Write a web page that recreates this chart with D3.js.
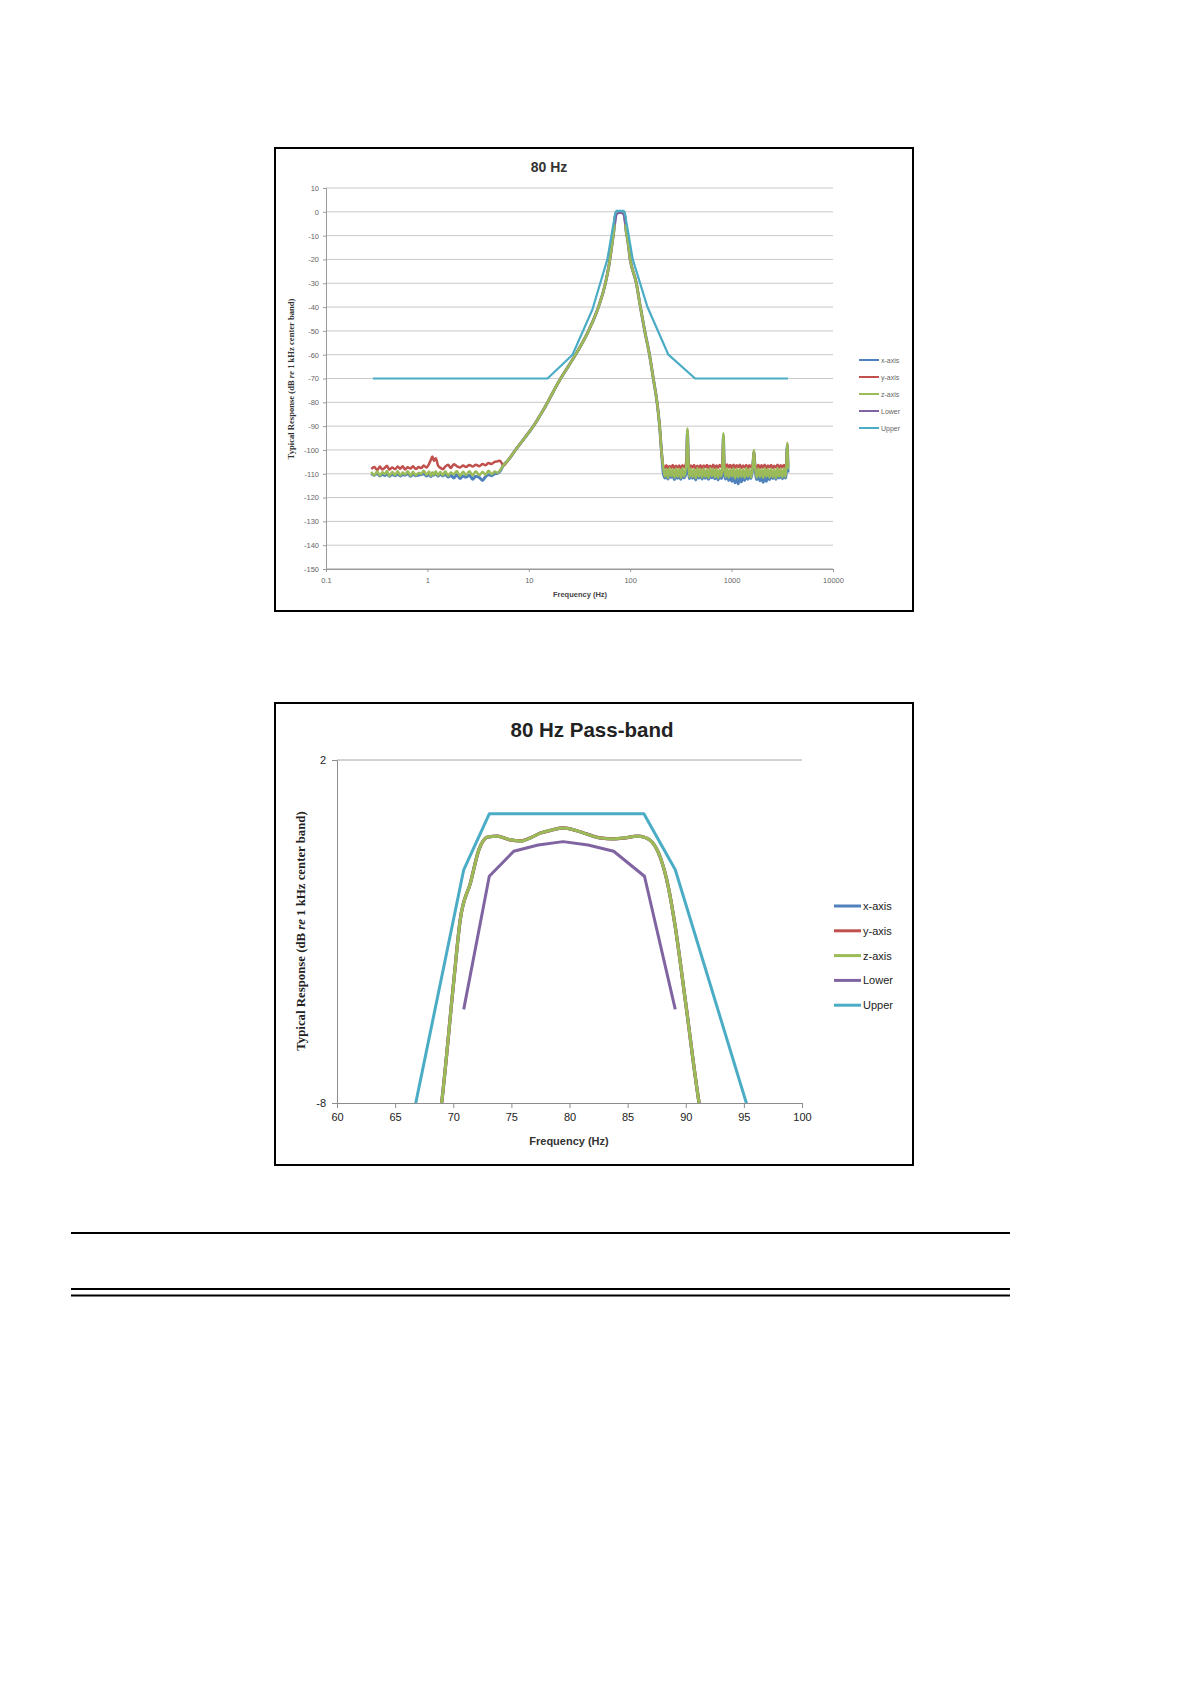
<!DOCTYPE html>
<html>
<head>
<meta charset="utf-8">
<script src="https://cdn.jsdelivr.net/npm/d3@7"></script>
<style>
  body { margin: 0; background: #fff; }
  svg { display: block; }
</style>
</head>
<body>
<script>
// ---- data ----
var seriesNames = ["x-axis", "y-axis", "z-axis", "Lower", "Upper"];
var seriesColors = ["#4f81bd", "#c0504d", "#9bbb59", "#8064a2", "#4bacc6"];

// low frequency noise floor
var lowFreq = [0.28,0.30,0.32,0.34,0.36,0.38,0.40,0.42,0.45,0.48,
  0.51,0.54,0.57,0.60,0.64,0.68,0.72,0.77,0.82,0.87,
  0.92,0.98,1.04,1.08,1.12,1.16,1.21,1.27,1.34,1.42,
  1.5,1.6,1.7,1.82,1.95,2.1,2.25,2.4,2.6,2.8,
  3.0,3.25,3.5,3.75,4.0,4.3,4.6,4.9,5.2];
var lowX = [-110.0,-110.6,-109.8,-110.9,-110.2,-110.7,-109.9,-111.0,-110.3,-110.8,
  -110.1,-110.9,-110.4,-110.6,-109.9,-111.1,-110.2,-110.8,-110.5,-110.3,
  -110.0,-110.9,-110.2,-111.2,-110.4,-110.6,-109.9,-111.0,-110.3,-110.9,
  -110.2,-111.4,-110.6,-111.8,-110.4,-112.0,-110.9,-111.5,-110.6,-112.3,
  -111.0,-111.6,-112.8,-111.2,-110.4,-110.8,-110.0,-109.8,-109.0];
var lowY = [-108.0,-107.2,-108.5,-107.0,-108.2,-107.5,-106.6,-108.3,-107.4,-108.1,
  -107.0,-107.9,-106.8,-108.2,-107.3,-107.8,-106.9,-108.0,-107.2,-107.6,
  -106.5,-107.4,-105.8,-104.2,-102.8,-104.6,-103.5,-106.4,-107.5,-108.1,
  -107.0,-106.2,-107.6,-106.0,-106.8,-107.4,-106.5,-107.2,-106.3,-107.0,
  -106.2,-106.8,-105.9,-106.4,-105.5,-105.9,-105.0,-104.8,-104.5];
var lowZ = [-109.2,-110.6,-109.0,-110.8,-109.4,-110.2,-108.8,-110.9,-109.3,-110.5,
  -109.0,-110.7,-109.5,-110.3,-108.9,-110.8,-109.2,-110.6,-109.6,-110.1,
  -108.7,-110.5,-109.1,-110.9,-109.4,-110.4,-108.9,-110.7,-109.3,-110.6,
  -109.0,-110.8,-109.5,-110.2,-108.8,-110.9,-109.2,-110.5,-109.0,-110.7,
  -108.9,-110.6,-109.3,-110.4,-108.7,-110.2,-109.1,-109.6,-108.6];

// filter skirts and pass-band (same for the three axes)
var skirtFreq = [5.6,6.2,7.4,8.9,11.1,14.0,20.6,24.6,28.9,38.8,48.6,57.0,62.0,65.5,67.5,69.0,70.0,70.6,71.5,72.2,
  73.0,73.8,74.8,75.8,76.7,77.5,78.5,79.5,80.5,81.5,82.6,83.8,84.8,85.8,86.5,87.1,87.8,88.5,89.1,90.0,
  91.15,93.8,100,115,126,139,155,169,184,195,203];
var skirtDb = [-106.5,-104.5,-100,-95.5,-90,-83,-70,-64.8,-60,-50,-40,-30,-22,-15,-11,-8,-4.6,-2.66,-1.56,-0.62,
  -0.24,-0.22,-0.32,-0.36,-0.26,-0.13,-0.04,0.02,-0.05,-0.16,-0.27,-0.30,-0.27,-0.22,-0.26,-0.39,-0.83,-1.7,-2.87,-5.1,
  -8,-11,-20,-30,-40,-50,-60,-70,-80,-90,-100];

// high frequency noise floor with spikes
var highFreq = [212,220,228,236,245,254,263,273,283,293,
  304,315,327,339,352,360,367,374,383,397,
  412,427,443,459,476,494,512,531,551,571,
  592,614,637,660,685,710,736,763,792,815,
  830,845,870,902,935,970,1006,1043,1082,1122,
  1163,1206,1251,1297,1345,1395,1447,1500,1555,1620,
  1660,1700,1770,1835,1903,1973,2046,2122,2200,2282,
  2366,2454,2545,2639,2736,2838,2943,3052,3165,3282,
  3400,3480,3540,3600];
var highX = [-109.6,-111.8,-110.0,-112.2,-109.8,-111.6,-110.2,-112.4,-109.9,-111.9,
  -110.1,-112.3,-109.8,-111.7,-110.4,-105,-92,-105,-112.0,-110.0,
  -111.9,-110.2,-112.6,-109.8,-111.8,-110.1,-112.2,-109.9,-111.9,-110.3,
  -112.3,-109.8,-111.7,-110.1,-112.1,-110.0,-112.6,-110.4,-112.0,-107,
  -94,-107,-112.2,-110.0,-112.8,-110.6,-113.2,-110.8,-113.8,-111.2,
  -114.2,-110.9,-113.4,-110.6,-112.8,-110.0,-112.3,-110.1,-112.0,-107,
  -101,-107,-112.4,-110.0,-112.9,-110.8,-113.6,-111.0,-113.2,-110.6,
  -112.5,-110.1,-112.0,-109.9,-112.3,-110.0,-111.8,-110.2,-112.1,-109.9,
  -111.8,-107,-98,-109.5];
var highY = [-106.6,-107.6,-106.4,-107.8,-106.7,-107.5,-106.3,-107.7,-106.6,-107.4,
  -106.5,-107.8,-106.4,-107.3,-106.2,-104,-92,-104,-107.6,-106.5,
  -107.4,-106.3,-107.7,-106.6,-107.5,-106.4,-107.8,-106.5,-107.3,-106.3,
  -107.6,-106.6,-107.4,-106.2,-107.7,-106.5,-107.5,-106.3,-107.2,-105.5,
  -94,-105.5,-107.5,-106.1,-107.4,-106.3,-107.6,-106.2,-107.5,-106.4,
  -107.3,-106.2,-107.6,-106.5,-107.4,-106.3,-107.7,-106.4,-107.2,-105.8,
  -100.5,-105.8,-107.5,-106.3,-107.6,-106.4,-107.4,-106.2,-107.7,-106.5,
  -107.3,-106.3,-107.6,-106.6,-107.4,-106.2,-107.5,-106.4,-107.3,-106.3,
  -107.4,-105.5,-97.5,-107.0];
var highZ = [-107.5,-111.2,-108.0,-111.8,-107.6,-111.0,-108.2,-111.6,-107.8,-111.3,
  -108.0,-111.7,-107.7,-111.2,-108.5,-104,-91,-104,-111.5,-107.9,
  -111.4,-108.1,-111.8,-107.6,-111.2,-108.0,-111.6,-107.8,-111.3,-108.2,
  -111.7,-107.6,-111.1,-108.0,-111.5,-107.9,-111.8,-108.3,-111.2,-106,
  -93,-106,-111.4,-107.8,-111.6,-108.1,-111.2,-107.7,-111.9,-108.0,
  -111.5,-107.9,-111.3,-108.2,-111.7,-107.6,-111.2,-108.0,-111.5,-106.5,
  -100,-106.5,-111.6,-107.8,-111.3,-108.1,-111.7,-107.7,-111.2,-108.0,
  -111.6,-107.9,-111.4,-108.2,-111.8,-107.6,-111.2,-108.0,-111.5,-107.8,
  -111.3,-106,-97,-108];

// tolerance limits
var lowerFreq = [70.9, 73.1, 75.2, 77.3, 79.45, 81.6, 83.8, 86.45, 89.1];
var lowerDb = [-5.27, -1.39, -0.66, -0.48, -0.38, -0.48, -0.66, -1.39, -5.27];
var upperFreq = [0.29, 15.3, 27, 42.4, 59.5, 70.9, 73.1, 86.4, 89.1, 106, 148, 238, 437, 3600];
var upperDb = [-70, -70, -60, -41, -20, -1.2, 0.43, 0.43, -1.2, -20, -40, -60, -70, -70];

// axis ticks
var ticksY1 = d3.range(-150, 11, 10);
var ticksX1 = [0.1, 1, 10, 100, 1000, 10000];
var ticksY2 = [-8, 2];
var ticksX2 = [60, 65, 70, 75, 80, 85, 90, 95, 100];

// build point lists
function zip(f, v) { return f.map(function(d, i) { return {f: d, v: v[i]}; }); }
var series = [
  zip(lowFreq.concat(skirtFreq, highFreq), lowX.concat(skirtDb, highX)),
  zip(lowFreq.concat(skirtFreq, highFreq), lowY.concat(skirtDb, highY)),
  zip(lowFreq.concat(skirtFreq, highFreq), lowZ.concat(skirtDb, highZ)),
  zip(lowerFreq, lowerDb),
  zip(upperFreq, upperDb)
];

var svg = d3.select("body").append("svg")
  .attr("width", 1190).attr("height", 1684);
svg.append("rect").attr("width", 1190).attr("height", 1684).attr("fill", "#fff");
var defs = svg.append("defs");

// ================= chart 1 : 80 Hz =================
var c1 = svg.append("g");
c1.append("rect").attr("x", 275).attr("y", 148).attr("width", 638).attr("height", 463)
  .attr("fill", "#fff").attr("stroke", "#000").attr("stroke-width", 2);

var x1 = d3.scaleLog().domain([0.1, 10000]).range([326, 833]);
var y1 = d3.scaleLinear().domain([-150, 10]).range([569, 188]);

c1.selectAll("line.grid").data(ticksY1).enter().append("line")
  .attr("class", "grid")
  .attr("x1", x1(0.1)).attr("x2", x1(10000))
  .attr("y1", function(d) { return y1(d); }).attr("y2", function(d) { return y1(d); })
  .attr("stroke", function(d) { return d == -150 ? "#9a9a9a" : "#c8c8c8"; }).attr("stroke-width", 1);

var ax1 = c1.append("g").attr("transform", "translate(" + x1(0.1) + ",0)")
  .call(d3.axisLeft(y1).tickValues(ticksY1).tickSize(3).tickPadding(4).tickFormat(function(d) { return String(d); }));
var bx1 = c1.append("g").attr("transform", "translate(0," + y1(-150) + ")")
  .call(d3.axisBottom(x1).tickValues(ticksX1).tickSize(3).tickPadding(6).tickFormat(function(d) { return String(d); }));
[ax1, bx1].forEach(function(a) {
  a.select(".domain").attr("stroke", "#9a9a9a");
  a.selectAll(".tick line").attr("stroke", "#9a9a9a");
  a.selectAll("text").attr("fill", "#666").attr("font-size", "7.5px").attr("font-family", "Liberation Sans, Arial, sans-serif");
});

defs.append("clipPath").attr("id", "clip1").append("rect")
  .attr("x", 326).attr("y", 180).attr("width", 510).attr("height", 392);

var line1 = d3.line().x(function(d) { return x1(d.f); }).y(function(d) { return y1(d.v); })
  .curve(d3.curveMonotoneX);
var lineStraight1 = d3.line().x(function(d) { return x1(d.f); }).y(function(d) { return y1(d.v); });
var widths1 = [3, 2.5, 2.5, 2, 2.2];
c1.append("g").attr("clip-path", "url(#clip1)")
  .selectAll("path").data(series).enter().append("path")
  .attr("fill", "none")
  .attr("stroke", function(d, i) { return seriesColors[i]; })
  .attr("stroke-width", function(d, i) { return widths1[i]; })
  .attr("stroke-linejoin", "round")
  .attr("d", function(d, i) { return i < 3 ? line1(d) : lineStraight1(d); });

c1.append("text").attr("x", 549).attr("y", 172).attr("text-anchor", "middle")
  .attr("font-family", "Liberation Sans, Arial, sans-serif").attr("font-weight", "bold")
  .attr("font-size", "14px").attr("fill", "#333").text("80 Hz");
c1.append("text").attr("x", 580).attr("y", 597).attr("text-anchor", "middle")
  .attr("font-family", "Liberation Sans, Arial, sans-serif").attr("font-weight", "bold")
  .attr("font-size", "7.5px").attr("fill", "#444").text("Frequency (Hz)");
var yl1 = c1.append("text").attr("transform", "translate(294,379) rotate(-90)").attr("text-anchor", "middle")
  .attr("font-family", "Liberation Serif, serif").attr("font-weight", "bold")
  .attr("font-size", "8.6px").attr("fill", "#333");
yl1.append("tspan").text("Typical Response (dB ");
yl1.append("tspan").attr("font-style", "italic").text("re");
yl1.append("tspan").text(" 1 kHz center band)");

var leg1 = c1.selectAll("g.leg").data(seriesNames).enter().append("g")
  .attr("class", "leg")
  .attr("transform", function(d, i) { return "translate(859," + (360 + i * 17) + ")"; });
leg1.append("line").attr("x1", 0).attr("x2", 20)
  .attr("stroke", function(d, i) { return seriesColors[i]; }).attr("stroke-width", 2);
leg1.append("text").attr("x", 22).attr("y", 2.5).text(function(d) { return d; })
  .attr("font-family", "Liberation Sans, Arial, sans-serif").attr("font-size", "7px").attr("fill", "#666");

// ================= chart 2 : pass-band =================
var c2 = svg.append("g");
c2.append("rect").attr("x", 275).attr("y", 703).attr("width", 638).attr("height", 462)
  .attr("fill", "#fff").attr("stroke", "#000").attr("stroke-width", 2);

var x2 = d3.scaleLinear().domain([60, 100]).range([337, 802]);
var y2 = d3.scaleLinear().domain([-8, 2]).range([1103, 760]);

c2.append("line").attr("x1", x2(60)).attr("x2", x2(100)).attr("y1", y2(2)).attr("y2", y2(2))
  .attr("stroke", "#a6a6a6").attr("stroke-width", 1);

var ax2 = c2.append("g").attr("transform", "translate(" + x2(60) + ",0)")
  .call(d3.axisLeft(y2).tickValues(ticksY2).tickSize(5).tickPadding(6).tickFormat(function(d) { return String(d); }));
var bx2 = c2.append("g").attr("transform", "translate(0," + y2(-8) + ")")
  .call(d3.axisBottom(x2).tickValues(ticksX2).tickSize(5).tickPadding(5).tickFormat(function(d) { return String(d); }));
[ax2, bx2].forEach(function(a) {
  a.select(".domain").attr("stroke", "#8c8c8c");
  a.selectAll(".tick line").attr("stroke", "#8c8c8c");
  a.selectAll("text").attr("fill", "#222").attr("font-size", "11px").attr("font-family", "Liberation Sans, Arial, sans-serif");
});

defs.append("clipPath").attr("id", "clip2").append("rect")
  .attr("x", x2(60)).attr("y", 740).attr("width", x2(100) - x2(60)).attr("height", y2(-8) - 740);

var line2 = d3.line().x(function(d) { return x2(d.f); }).y(function(d) { return y2(d.v); })
  .curve(d3.curveMonotoneX);
var lineStraight2 = d3.line().x(function(d) { return x2(d.f); }).y(function(d) { return y2(d.v); });
var widths2 = [3.3, 3.2, 3.0, 3, 3];
c2.append("g").attr("clip-path", "url(#clip2)")
  .selectAll("path").data(series).enter().append("path")
  .attr("fill", "none")
  .attr("stroke", function(d, i) { return seriesColors[i]; })
  .attr("stroke-width", function(d, i) { return widths2[i]; })
  .attr("stroke-linejoin", "round")
  .attr("d", function(d, i) { return i < 3 ? line2(d) : lineStraight2(d); });

c2.append("text").attr("x", 592).attr("y", 737).attr("text-anchor", "middle")
  .attr("font-family", "Liberation Sans, Arial, sans-serif").attr("font-weight", "bold")
  .attr("font-size", "20.5px").attr("fill", "#222").text("80 Hz Pass-band");
c2.append("text").attr("x", 569).attr("y", 1145).attr("text-anchor", "middle")
  .attr("font-family", "Liberation Sans, Arial, sans-serif").attr("font-weight", "bold")
  .attr("font-size", "11px").attr("fill", "#333").text("Frequency (Hz)");
var yl2 = c2.append("text").attr("transform", "translate(305,931) rotate(-90)").attr("text-anchor", "middle")
  .attr("font-family", "Liberation Serif, serif").attr("font-weight", "bold")
  .attr("font-size", "12.8px").attr("fill", "#222");
yl2.append("tspan").text("Typical Response (dB ");
yl2.append("tspan").attr("font-style", "italic").text("re");
yl2.append("tspan").text(" 1 kHz center band)");

var leg2 = c2.selectAll("g.leg").data(seriesNames).enter().append("g")
  .attr("class", "leg")
  .attr("transform", function(d, i) { return "translate(834," + (906 + i * 24.8) + ")"; });
leg2.append("line").attr("x1", 0).attr("x2", 27)
  .attr("stroke", function(d, i) { return seriesColors[i]; }).attr("stroke-width", 3);
leg2.append("text").attr("x", 29).attr("y", 4).text(function(d) { return d; })
  .attr("font-family", "Liberation Sans, Arial, sans-serif").attr("font-size", "11px").attr("fill", "#222");

// ---- page rules under the figures ----
var rules = [1233, 1289, 1295.5];
svg.selectAll("line.rule").data(rules).enter().append("line")
  .attr("class", "rule")
  .attr("x1", 71).attr("x2", 1010)
  .attr("y1", function(d) { return d; }).attr("y2", function(d) { return d; })
  .attr("stroke", "#000").attr("stroke-width", 2);
</script>
</body>
</html>
